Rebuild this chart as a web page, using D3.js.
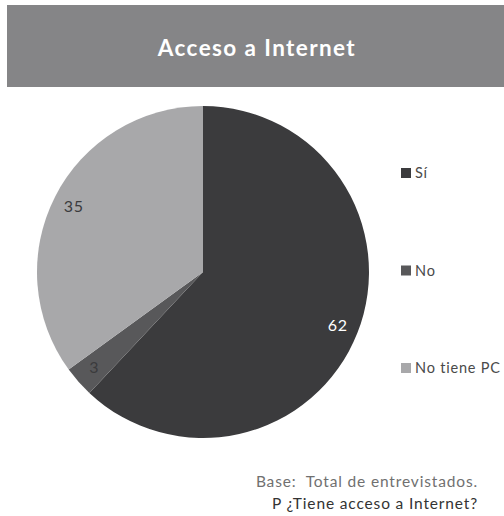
<!DOCTYPE html>
<html>
<head>
<meta charset="utf-8">
<script src="https://cdn.jsdelivr.net/npm/d3@7"></script>
<style>
  html, body { margin: 0; padding: 0; background: #fff; }
  svg { display: block; }
</style>
</head>
<body>
<svg id="chart" width="504" height="516"></svg>
<script>
// Respuestas: acceso a Internet (%)
const categories = ["Sí", "No", "No tiene PC"];
const values = [62, 3, 35];
const colors = ["#3b3b3d", "#58585a", "#a8a8aa"];
const labelColors = ["#ffffff", "#3b3b3d", "#3b3b3d"];
const titleText = "Acceso a Internet";
const footLines = ["Base:  Total de entrevistados.", "P ¿Tiene acceso a Internet?"];

const svg = d3.select("#chart");
const font = "Lato, 'DejaVu Sans', sans-serif";

// Banda del título
svg.append("rect")
  .attr("x", 7).attr("y", 5).attr("width", 497).attr("height", 82)
  .attr("fill", "#858587");
svg.append("text")
  .attr("x", 257).attr("y", 56)
  .attr("text-anchor", "middle")
  .attr("font-family", font).attr("font-weight", "bold")
  .attr("font-size", 22.5).attr("letter-spacing", 1.4)
  .attr("fill", "#ffffff")
  .text(titleText);

// Pastel
const cx = 203, cy = 272, r = 166;
const data = categories.map((c, i) => ({ cat: c, value: values[i], i }));
const pie = d3.pie().value(d => d.value).sort(null);
const arcs = pie(data);
const arc = d3.arc().innerRadius(0).outerRadius(r);
const labelArc = d3.arc().innerRadius(145).outerRadius(145);

const g = svg.append("g").attr("transform", `translate(${cx},${cy})`);
g.selectAll("path").data(arcs).join("path")
  .attr("d", arc)
  .attr("fill", d => colors[d.data.i]);

g.selectAll("text").data(arcs).join("text")
  .attr("transform", d => `translate(${labelArc.centroid(d)})`)
  .attr("text-anchor", "middle")
  .attr("dy", "0.35em")
  .attr("font-family", font)
  .attr("font-size", 16).attr("letter-spacing", 0.8)
  .attr("fill", d => labelColors[d.data.i])
  .text(d => d.data.value);

// Leyenda
const legendY = d3.scalePoint().domain(categories).range([173, 368]);
const lg = svg.append("g");
categories.forEach((c, i) => {
  const y = legendY(c);
  lg.append("rect")
    .attr("x", 401).attr("y", y - 5).attr("width", 10).attr("height", 10)
    .attr("fill", colors[i]);
  lg.append("text")
    .attr("x", 415).attr("y", y).attr("dy", "0.36em")
    .attr("font-family", font).attr("font-size", 14.5)
    .attr("letter-spacing", 0.8)
    .attr("fill", "#4a4a4a")
    .text(c);
});

// Nota al pie
svg.append("text")
  .attr("x", 478).attr("y", 487)
  .attr("text-anchor", "end")
  .attr("font-family", font).attr("font-size", 15.5)
  .attr("letter-spacing", 0.85)
  .attr("fill", "#707070")
  .attr("xml:space", "preserve")
  .text(footLines[0]);
svg.append("text")
  .attr("x", 478).attr("y", 509)
  .attr("text-anchor", "end")
  .attr("font-family", font).attr("font-size", 15.5)
  .attr("letter-spacing", 0.85)
  .attr("fill", "#333333")
  .text(footLines[1]);
</script>
</body>
</html>
